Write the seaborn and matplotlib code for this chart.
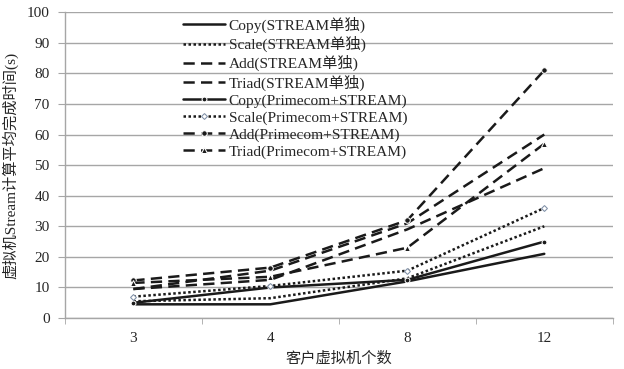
import numpy as np
import pandas as pd
import matplotlib
matplotlib.use("Agg")
import matplotlib.pyplot as plt
import seaborn as sns

# 数据
clients = ["3", "4", "8", "12"]
copy_alone = [4.5, 4.5, 12, 21]
scale_alone = [5.5, 6.5, 13, 30]
add_alone = [9.5, 15.5, 31, 60]
triad_alone = [9.5, 12.5, 29, 49]
copy_mixed = [5, 10, 12.5, 25]
scale_mixed = [7, 10.5, 15.5, 36]
add_mixed = [12.3, 16.5, 32, 81]
triad_mixed = [11.5, 13.5, 23, 57]

labels = [
    "Copy(STREAM单独)", "Scale(STREAM单独)", "Add(STREAM单独)", "Triad(STREAM单独)",
    "Copy(Primecom+STREAM)", "Scale(Primecom+STREAM)", "Add(Primecom+STREAM)", "Triad(Primecom+STREAM)",
]
series = [copy_alone, scale_alone, add_alone, triad_alone,
          copy_mixed, scale_mixed, add_mixed, triad_mixed]

dotted = (0, (1, 1))
dashed = (0, (4.5, 2.5))
styles = [
    dict(linestyle="-", marker=None),
    dict(linestyle=dotted, marker=None),
    dict(linestyle=dashed, marker=None),
    dict(linestyle=dashed, marker=None),
    dict(linestyle="-", marker="o", markersize=3.5),
    dict(linestyle=dotted, marker="D", markersize=3, markerfacecolor="white", markeredgecolor="#7f8fa6"),
    dict(linestyle=dashed, marker="o", markersize=4),
    dict(linestyle=dashed, marker="^", markersize=4.5),
]

sns.set_style("white")
plt.rcParams["font.family"] = ["Liberation Serif", "Noto Sans CJK SC"]

fig, ax = plt.subplots(figsize=(6.24, 3.69), dpi=100)
fig.subplots_adjust(left=0.104, right=0.982, top=0.967, bottom=0.138)

for lab, vals, st in zip(labels, series, styles):
    df = pd.DataFrame({"clients": clients, "time": vals})
    sns.lineplot(data=df, x="clients", y="time", ax=ax, color="#1a1a1a",
                 linewidth=1.8, label=lab, **st)

ax.set_xlim(-0.5, 3.5)
ax.set_ylim(0, 100)
ax.set_yticks(np.arange(0, 101, 10))
ax.yaxis.grid(True, color="#a6a6a6", linewidth=1)
ax.xaxis.grid(False)
ax.set_axisbelow(True)

ax.set_xticks(range(len(clients)))
ax.set_xticklabels(clients)
ax.set_xticks(np.arange(-0.5, 4, 1), minor=True)
ax.tick_params(axis="x", which="major", length=0, labelsize=11, pad=10)
ax.tick_params(axis="x", which="minor", length=4, color="#a6a6a6", direction="out", bottom=True)
ax.tick_params(axis="y", length=5, color="#a6a6a6", direction="out", left=True, labelsize=11, pad=6)

for s in ["top", "right"]:
    ax.spines[s].set_visible(False)
for s in ["left", "bottom"]:
    ax.spines[s].set_color("#a6a6a6")
    ax.spines[s].set_linewidth(1)

ax.set_xlabel("客户虚拟机个数", fontsize=11, labelpad=4)
ax.set_ylabel("虚拟机Stream计算平均完成时间(s)", fontsize=11, labelpad=6)

leg = ax.legend(loc="upper left", bbox_to_anchor=(0.205, 1.005), frameon=False,
                fontsize=11.1, handlelength=2.7, handletextpad=0.25, labelspacing=0.2,
                borderaxespad=0)

fig.savefig("out.png", dpi=100)
